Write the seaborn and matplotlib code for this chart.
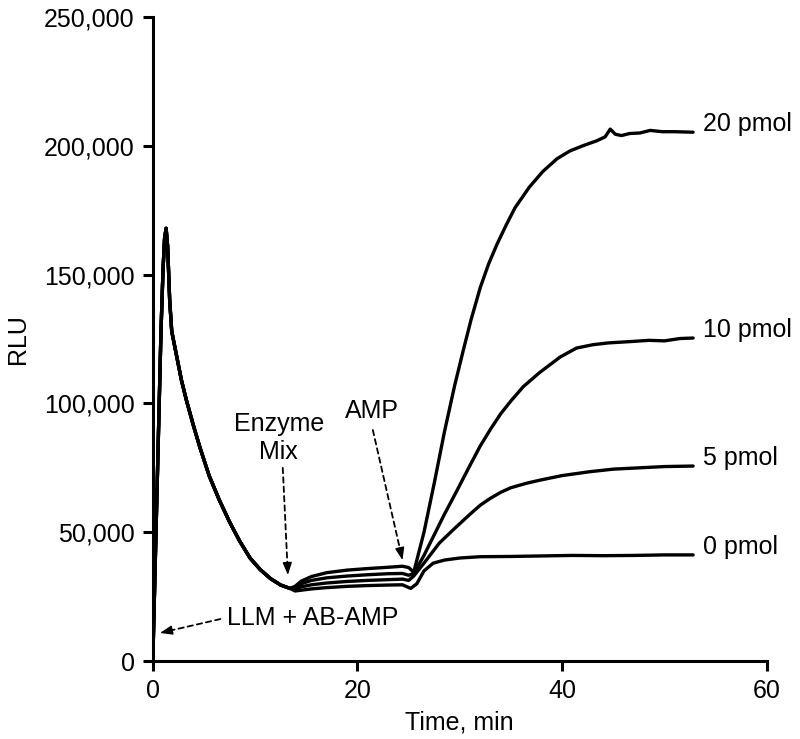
import numpy as np
import pandas as pd
import matplotlib
matplotlib.use("Agg")
import matplotlib.pyplot as plt
import seaborn as sns
from matplotlib.ticker import FuncFormatter

# ---- data ----
# shared part: injection peak and decay (all four traces overlap)
common_t = [0, 0.4, 0.8, 1.0, 1.15, 1.3, 1.45, 1.65, 1.85, 2.3, 2.8, 3.3, 4.0,
            4.6, 5.5, 6.5, 7.5, 8.5, 9.5, 10.5, 11.5, 12.5, 13.4]
common_v = [0, 64000, 128000, 152000, 164000, 168000, 161000, 140000, 128000,
            119000, 109000, 101000, 91000, 83000, 72000, 62500, 54000, 46500,
            40000, 35500, 32000, 29500, 28200]

t20 = [13.9, 14.5, 15.5, 17, 19, 21, 23, 24.4, 25.0, 25.5, 26.5, 27.5, 28.5,
       29.5, 30.3, 31.1, 32.0, 32.8, 33.6, 34.5, 35.4, 36.8, 38.1, 39.5, 40.75,
       42, 43.4, 44.2, 44.7, 45.2, 45.8, 46.6, 47.6, 48.6, 49.8, 51, 52.8]
v20 = [29000, 31000, 32800, 34300, 35300, 35900, 36400, 36800, 36300, 34500,
       50000, 69000, 89000, 107000, 120000, 132500, 145000, 154000, 161500,
       169000, 176000, 184000, 190000, 195000, 198000, 200000, 202000, 203500,
       206500, 204500, 204000, 204800, 205000, 206000, 205500, 205500, 205300]

t10 = [13.9, 14.5, 15.5, 17, 19, 21, 23, 24.4, 25.0, 25.5, 26.5, 27.5, 28.5,
       29.7, 31, 32, 33, 34, 35, 36.2, 37.8, 39.8, 41.4, 43, 44.5, 46.6, 48.5,
       50, 51.5, 52.8]
v10 = [28500, 30000, 31300, 32300, 33000, 33500, 33900, 34000, 33300, 34000,
       41000, 49000, 57000, 66000, 76000, 83500, 90000, 96000, 101000, 106500,
       112000, 118000, 121500, 122800, 123500, 124000, 124500, 124300, 125200,
       125400]

t5 = [13.9, 14.5, 15.5, 17, 19, 21, 23, 24.4, 25.0, 25.5, 26.5, 28, 29.5, 31,
      32, 33, 34, 35, 36.5, 37.8, 40, 42.7, 45, 47.5, 50, 52.8]
v5 = [28000, 28800, 29600, 30300, 30900, 31300, 31600, 31800, 31300, 33000,
      38000, 45800, 51500, 57000, 60500, 63200, 65500, 67300, 69000, 70200,
      72000, 73500, 74500, 75000, 75500, 75700]

t0 = [13.9, 14.5, 15.5, 17, 19, 21, 23, 24.4, 25.2, 25.8, 26.5, 27.4, 28.5,
      30, 32, 35, 38, 41, 44, 47, 50, 52.8]
v0 = [27200, 27500, 28000, 28500, 29000, 29300, 29500, 29600, 28200, 30000,
      35000, 38000, 39200, 40000, 40500, 40600, 40800, 41000, 40900, 41000,
      41200, 41200]

series_names = ["20 pmol", "10 pmol", "5 pmol", "0 pmol"]
series_t = [t20, t10, t5, t0]
series_v = [v20, v10, v5, v0]

x_ticks = [0, 20, 40, 60]
y_ticks = [0, 50000, 100000, 150000, 200000, 250000]

# ---- build long table ----
frames = []
for name, tt, vv in zip(series_names, series_t, series_v):
    frames.append(pd.DataFrame({"time": common_t + tt, "rlu": common_v + vv,
                                "amount": name}))
df = pd.concat(frames, ignore_index=True)

# ---- plot ----
sns.set_style("ticks")
plt.rcParams["font.family"] = ["Liberation Sans", "DejaVu Sans"]
plt.rcParams.update({"axes.linewidth": 2.2, "axes.edgecolor": "black",
                     "text.color": "black", "axes.labelcolor": "black",
                     "xtick.color": "black", "ytick.color": "black"})
FS = 18

fig = plt.figure(figsize=(8, 7.39), dpi=100)
ax = fig.add_axes([0.191, 0.1055, 0.7675, 0.8714])

sns.lineplot(data=df, x="time", y="rlu", units="amount", estimator=None,
             sort=False, color="black", linewidth=2.4, ax=ax, legend=False)

ax.set_xlim(0, 60)
ax.set_ylim(0, 250000)
ax.set_xticks(x_ticks)
ax.set_yticks(y_ticks)
ax.yaxis.set_major_formatter(FuncFormatter(lambda v, p: f"{int(v):,}"))
ax.tick_params(axis="both", direction="out", length=7, width=2.2,
               labelsize=FS, pad=6)
sns.despine(ax=ax)

ax.set_xlabel("Time, min", fontsize=FS, labelpad=5)
ax.set_ylabel("RLU", fontsize=FS, labelpad=10)

# end-of-trace labels
for name, tt, vv in zip(series_names, series_t, series_v):
    ax.text(tt[-1] + 1.0, vv[-1] + 3000, name, fontsize=FS,
            ha="left", va="center", clip_on=False)


def dashed_arrow(start, tip):
    # dashed shaft plus a solid head
    p0 = ax.transData.transform(start)
    p1 = ax.transData.transform(tip)
    d = (p1 - p0) / np.hypot(*(p1 - p0))
    ax.annotate("", xy=tip, xytext=start,
                arrowprops=dict(arrowstyle="-", linestyle=(0, (3, 2.2)),
                                linewidth=1.3, color="black",
                                shrinkA=0, shrinkB=5))
    ax.annotate("", xy=tip, xytext=(-d[0] * 9, -d[1] * 9),
                textcoords="offset points",
                arrowprops=dict(arrowstyle="-|>,head_length=0.75,head_width=0.28",
                                linewidth=1.0, color="black",
                                shrinkA=0, shrinkB=0))


ax.text(12.3, 86500, "Enzyme\nMix", fontsize=FS, ha="center", va="center",
        linespacing=1.2)
dashed_arrow((12.7, 75000), (13.2, 33400))

ax.text(21.4, 97000, "AMP", fontsize=FS, ha="center", va="center")
dashed_arrow((21.5, 89700), (24.4, 39200))

ax.text(15.6, 16700, "LLM + AB-AMP", fontsize=FS, ha="center", va="center")
dashed_arrow((6.6, 16300), (0.7, 10900))

fig.savefig("out.png", dpi=100)
